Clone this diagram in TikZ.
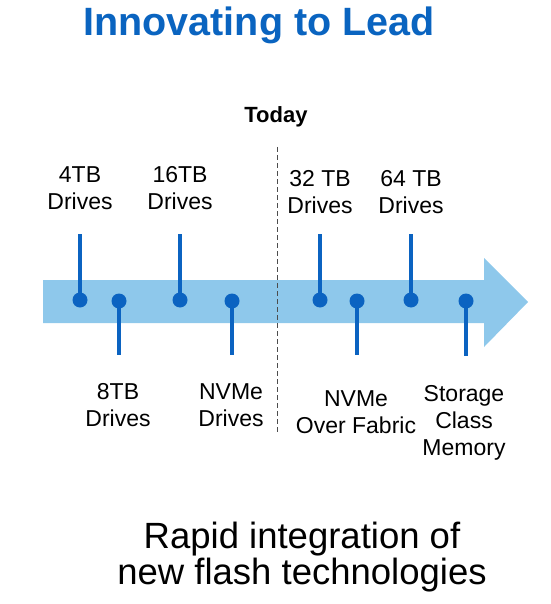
\documentclass[tikz,border=0pt]{standalone}
\usepackage{fontspec}
\setmainfont{Liberation Sans}
\usepackage{xcolor}
\definecolor{bandblue}{HTML}{8EC8EB}
\definecolor{pinblue}{HTML}{0B63C1}
\definecolor{titleblue}{HTML}{0A64C0}

\begin{document}
\begin{tikzpicture}[x=1pt, y=-1pt,
    pin dot/.style={circle, fill=pinblue, inner sep=0pt, minimum size=15pt},
    pin stem/.style={pinblue, line width=4pt},
    drive label/.style={align=center, inner sep=0pt, anchor=north, font=\fontsize{23}{27}\selectfont}]

    % ==========================================
    % CANVAS & TIMELINE ARROW
    % ==========================================

    \useasboundingbox (0,0) rectangle (550,604);

    % Light blue band with its arrow head
    \fill[bandblue] (43,280) -- (484,280) -- (484,258) -- (528,302)
        -- (484,347) -- (484,323) -- (43,323) -- cycle;

    % Dashed "today" separator
    \coordinate (T_top) at (277,147);
    \coordinate (T_bot) at (277,432);
    \draw[gray!60!black, line width=1pt, dash pattern=on 5pt off 3pt] (T_top) -- (T_bot);

    % ==========================================
    % TITLES
    % ==========================================

    \node[anchor=base, text=titleblue, font=\fontsize{39.5}{48}\selectfont\bfseries] (title) at (259,36) {Innovating to Lead};
    \node[anchor=base, font=\fontsize{22}{26}\selectfont\bfseries] (today) at (276,123) {Today};
    \node[anchor=north, align=center, inner sep=0pt, font=\fontsize{36.5}{36}\selectfont] (summary) at (302,522)
        {Rapid integration of\\new flash technologies};

    % ==========================================
    % PINS ABOVE THE BAND
    % ==========================================

    \coordinate (s4)  at (80,234);
    \coordinate (s16) at (180,234);
    \coordinate (s32) at (320,234);
    \coordinate (s64) at (411,234);

    \draw[pin stem] (s4)  -- (80,300);
    \draw[pin stem] (s16) -- (180,300);
    \draw[pin stem] (s32) -- (320,300);
    \draw[pin stem] (s64) -- (411,300);

    \node[pin dot] (d4)  at (80,300) {};
    \node[pin dot] (d16) at (180,300) {};
    \node[pin dot] (d32) at (320,300) {};
    \node[pin dot] (d64) at (411,300) {};

    \node[drive label] (l4)  at (80,166)  {4TB\\Drives};
    \node[drive label] (l16) at (180,166) {16TB\\Drives};
    \node[drive label] (l32) at (320,170) {32 TB\\Drives};
    \node[drive label] (l64) at (411,170) {64 TB\\Drives};

    % ==========================================
    % PINS BELOW THE BAND
    % ==========================================

    \coordinate (s8)   at (119,355);
    \coordinate (snv)  at (232,355);
    \coordinate (snvf) at (357,355);
    \coordinate (sscm) at (466,356);

    \draw[pin stem] (119,301) -- (s8);
    \draw[pin stem] (232,301) -- (snv);
    \draw[pin stem] (357,301) -- (snvf);
    \draw[pin stem] (466,301) -- (sscm);

    \node[pin dot] (d8)   at (119,301) {};
    \node[pin dot] (dnv)  at (232,301) {};
    \node[pin dot] (dnvf) at (357,301) {};
    \node[pin dot] (dscm) at (466,301) {};

    \node[drive label] (l8)   at (118,383) {8TB\\Drives};
    \node[drive label] (lnv)  at (231,383) {NVMe\\Drives};
    \node[drive label] (lnvf) at (356,390) {NVMe\\Over Fabric};
    \node[drive label] (lscm) at (464,385) {Storage\\Class\\Memory};

\end{tikzpicture}
\end{document}
